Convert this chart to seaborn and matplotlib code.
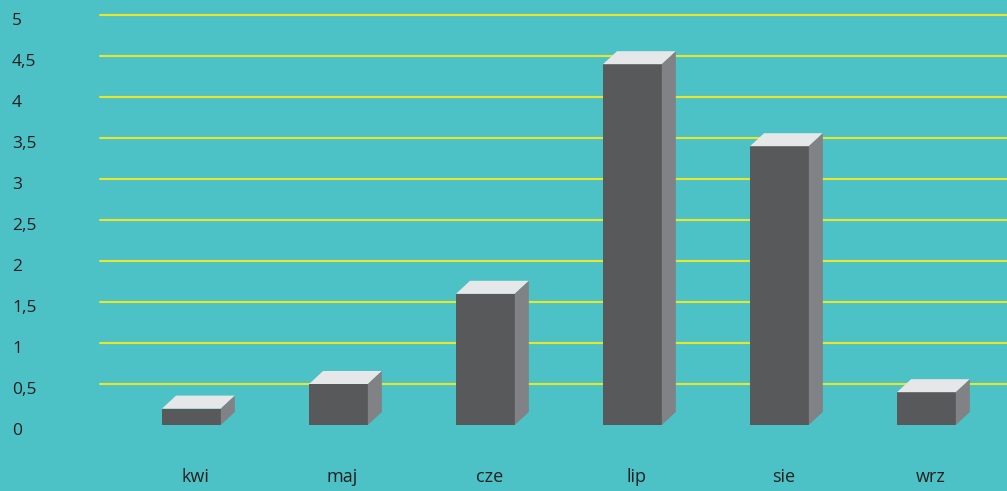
import matplotlib
matplotlib.use("Agg")
import matplotlib.pyplot as plt
import matplotlib.transforms as mtransforms
from matplotlib.patches import Polygon
import seaborn as sns
import pandas as pd

months = ["kwi", "maj", "cze", "lip", "sie", "wrz"]
values = [0.2, 0.5, 1.6, 4.4, 3.4, 0.4]
yticks = [0, 0.5, 1, 1.5, 2, 2.5, 3, 3.5, 4, 4.5, 5]
ytick_labels = ["0", "0,5", "1", "1,5", "2", "2,5", "3", "3,5", "4", "4,5", "5"]

BG = "#4DC2C6"
FRONT = "#58595B"
SIDE = "#808285"
TOP = "#E6E7E8"
GRID = "#E9E52B"
TEXT = "#231F20"

sns.set_theme(style="white")
plt.rcParams["font.family"] = ["Open Sans", "DejaVu Sans"]

W, H = 1007, 491
fig = plt.figure(figsize=(W / 100, H / 100), dpi=100, facecolor=BG)
ax = fig.add_axes([100 / W, (H - 425) / H, (W - 100) / W, 410 / H])
ax.set_facecolor(BG)

df = pd.DataFrame({"month": months, "value": values})
sns.barplot(data=df, x="month", y="value", color=FRONT, width=0.40,
            saturation=1, ax=ax, zorder=3, edgecolor="none", linewidth=0)

ax.set_xlim(-0.622, -0.622 + 907 / 147)
ax.set_ylim(0, 5)

# horizontal gridlines (none at 0)
for yv in yticks[1:]:
    ax.axhline(yv, color=GRID, lw=1.5, zorder=1, clip_on=False)

for s in ax.spines.values():
    s.set_visible(False)

# 3D faces via display-space offsets
dx_px, dy_px = 14, 13
fig.canvas.draw()
inv = ax.transData.inverted()
for p in ax.patches:
    x0 = p.get_x()
    w = p.get_width()
    h = p.get_height()
    X0, Y0 = ax.transData.transform((x0, 0))
    X1, Y1 = ax.transData.transform((x0 + w, h))
    top = [(X0, Y1), (X1, Y1), (X1 + dx_px, Y1 + dy_px), (X0 + dx_px, Y1 + dy_px)]
    side = [(X1, Y0), (X1 + dx_px, Y0 + dy_px), (X1 + dx_px, Y1 + dy_px), (X1, Y1)]
    ax.add_patch(Polygon([inv.transform(q) for q in top], closed=True,
                         facecolor=TOP, edgecolor="none", zorder=3, clip_on=False))
    ax.add_patch(Polygon([inv.transform(q) for q in side], closed=True,
                         facecolor=SIDE, edgecolor="none", zorder=3, clip_on=False))

ax.set_xlabel("")
ax.set_ylabel("")
ax.set_yticks(yticks)
ax.set_yticklabels(ytick_labels)
ax.tick_params(axis="y", length=0, pad=88 * 0.72, labelsize=12.5, labelcolor=TEXT)
for lab in ax.get_yticklabels():
    lab.set_horizontalalignment("left")
    lab.set_transform(lab.get_transform() + mtransforms.ScaledTranslation(0, -4 / 100, fig.dpi_scale_trans))

ax.set_xticks(range(len(months)))
ax.set_xticklabels(months)
ax.tick_params(axis="x", length=0, pad=43 * 0.72, labelsize=13, labelcolor=TEXT)
for lab in ax.get_xticklabels():
    lab.set_transform(lab.get_transform() + mtransforms.ScaledTranslation(4 / 100, 0, fig.dpi_scale_trans))

fig.savefig("out.png", dpi=100, facecolor=BG)
